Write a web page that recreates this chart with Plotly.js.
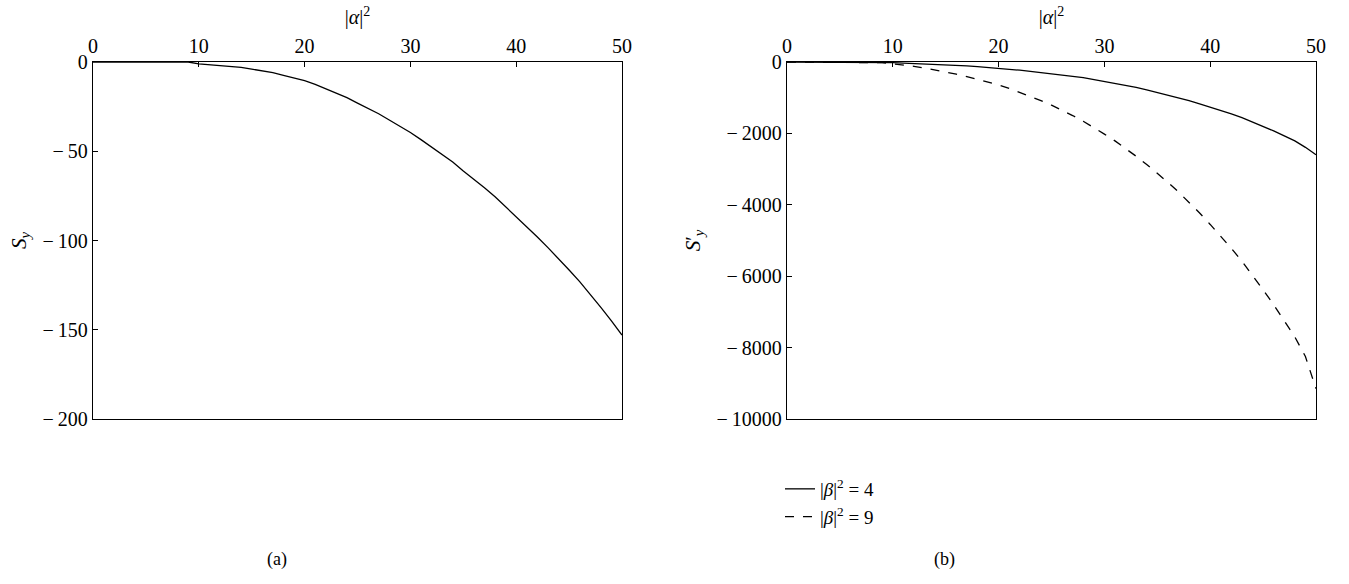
<!DOCTYPE html>
<html>
<head>
<meta charset="utf-8">
<script src="https://cdn.plot.ly/plotly-3.0.1.min.js"></script>
<style>
  html, body { margin: 0; padding: 0; background: #fff; }
  #chart { width: 1349px; height: 584px; }
</style>
</head>
<body>
<div id="chart"></div>
<script>
// |alpha|^2 grid shared by both panels
const alphaSq = [];
for (let i = 0; i <= 50; i++) alphaSq.push(i);

// Panel (a): S_y
const sy = [0, 0, 0, 0, 0, 0, 0, 0, 0, 0,
  -1, -1.5, -2, -2.5, -3, -4, -5, -6, -7.5, -9,
  -10.5, -12.5, -15, -17.5, -20, -23, -26, -29, -32.5, -36,
  -39.5, -43.5, -47.5, -52, -56, -61, -65.5, -70.5, -75.5, -81,
  -86.5, -92, -98, -104, -110, -116.5, -123, -130, -137.5, -145,
  -153];

// Panel (b): S'_y for |beta|^2 = 4 and |beta|^2 = 9
const syBeta4 = [0, 0, 0, 0, 0, 0, 0, 0, 0, -10,
  -20, -30, -40, -50, -60, -70, -90, -110, -130, -150,
  -170, -200, -230, -260, -290, -320, -360, -400, -440, -490,
  -540, -590, -650, -710, -780, -850, -920, -1000, -1080, -1170,
  -1260, -1350, -1450, -1560, -1680, -1800, -1930, -2070, -2210, -2390,
  -2600];
const syBeta9 = [0, 0, 0, 0, 0, 0, 0, 0, 0, -20,
  -50, -80, -120, -170, -220, -280, -340, -410, -480, -560,
  -640, -740, -850, -960, -1080, -1210, -1350, -1500, -1660, -1830,
  -2020, -2210, -2420, -2640, -2870, -3110, -3370, -3640, -3930, -4230,
  -4550, -4880, -5220, -5580, -5970, -6380, -6800, -7240, -7700, -8250,
  -9150];

const xTicks = [0, 10, 20, 30, 40, 50];
const yTicksA = [0, -50, -100, -150, -200];
const yTicksB = [0, -2000, -4000, -6000, -8000, -10000];
const legendNames = ['|<i>β</i>|<sup>2</sup> = 4', '|<i>β</i>|<sup>2</sup> = 9'];

const minusLabel = v => v < 0 ? '\u2212\u2009' + Math.abs(v) : String(v);

const FONT = '"Liberation Serif", "Times New Roman", serif';
const INK = '#000000';

const traces = [
  { x: alphaSq, y: sy, xaxis: 'x', yaxis: 'y', mode: 'lines',
    line: { color: INK, width: 1.3 }, showlegend: false },
  { x: alphaSq, y: syBeta4, xaxis: 'x2', yaxis: 'y2', mode: 'lines',
    name: legendNames[0], line: { color: INK, width: 1.3 } },
  { x: alphaSq, y: syBeta9, xaxis: 'x2', yaxis: 'y2', mode: 'lines',
    name: legendNames[1], line: { color: INK, width: 1.3, dash: 'dash' } }
];

const yDom = [1 - 419 / 584, 1 - 62 / 584];

function xAxis(domain, anchor) {
  return {
    domain: domain, anchor: anchor, side: 'top', range: [0, 50],
    tickvals: xTicks, ticktext: xTicks.map(String),
    ticks: 'inside', ticklen: 5, tickcolor: INK, tickwidth: 1,
    showline: true, linecolor: INK, linewidth: 1.2, mirror: true,
    showgrid: false, zeroline: false,
    tickfont: { family: FONT, size: 20, color: INK },
    title: { text: '|<i>α</i>|<sup>2</sup>', font: { family: FONT, size: 20, color: INK }, standoff: 4 }
  };
}
function yAxis(domain, anchor, ticks, title, range) {
  return {
    domain: domain, anchor: anchor, range: range,
    tickvals: ticks, ticktext: ticks.map(minusLabel),
    ticks: 'inside', ticklen: 5, tickcolor: INK, tickwidth: 1,
    showline: true, linecolor: INK, linewidth: 1.2, mirror: true,
    showgrid: false, zeroline: false,
    tickfont: { family: FONT, size: 20, color: INK },
    title: { text: title, font: { family: FONT, size: 21, color: INK }, standoff: 10 }
  };
}

const layout = {
  width: 1349, height: 584,
  margin: { l: 0, r: 0, t: 0, b: 0 },
  paper_bgcolor: '#fff', plot_bgcolor: '#fff',
  font: { family: FONT, color: INK, size: 18 },
  xaxis: xAxis([93 / 1349, 622 / 1349], 'y'),
  yaxis: yAxis(yDom, 'x', yTicksA, '<i>S</i><sub><i>y</i></sub>', [-200, 0]),
  xaxis2: xAxis([787 / 1349, 1316 / 1349], 'y2'),
  yaxis2: yAxis(yDom, 'x2', yTicksB, '<i>S</i>′<sub><i>y</i></sub>', [-10000, 0]),
  showlegend: true,
  legend: {
    x: 780 / 1349, y: 1 - 470 / 584, xanchor: 'left', yanchor: 'top',
    bgcolor: 'rgba(0,0,0,0)', font: { family: FONT, size: 19, color: INK },
    tracegroupgap: 0, itemwidth: 30
  },
  annotations: [
    { text: '(a)', x: 265 / 1349, y: 1 - 572 / 584, xref: 'paper', yref: 'paper',
      showarrow: false, font: { family: FONT, size: 18, color: INK } },
    { text: '(b)', x: 957 / 1349, y: 1 - 572 / 584, xref: 'paper', yref: 'paper',
      showarrow: false, font: { family: FONT, size: 18, color: INK } }
  ]
};

Plotly.newPlot('chart', traces, layout, { displayModeBar: false, staticPlot: true });
</script>
</body>
</html>
